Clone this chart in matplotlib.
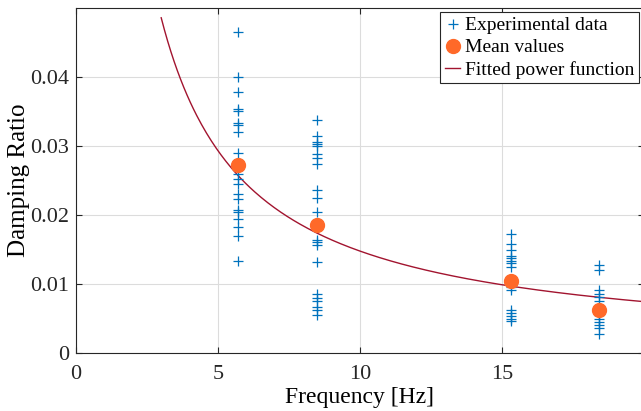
import numpy as np
import matplotlib
matplotlib.use("Agg")
import matplotlib.pyplot as plt

plt.rcParams['font.family'] = ['Liberation Serif', 'DejaVu Serif']

# experimental damping ratios per frequency group
freq_groups = [5.7, 8.5, 15.3, 18.4]
damp_57 = [0.0465, 0.0400, 0.0378, 0.0353, 0.0351, 0.0334, 0.0330, 0.0321, 0.0290, 0.0259,
           0.0252, 0.0245, 0.0230, 0.0223, 0.0207, 0.0204, 0.0194, 0.0182, 0.0169, 0.0133]
damp_85 = [0.0338, 0.0315, 0.0306, 0.0303, 0.0300, 0.0288, 0.0282, 0.0274, 0.0236, 0.0225,
           0.0204, 0.0164, 0.0161, 0.0156, 0.0132, 0.0086, 0.0079, 0.0075, 0.0067, 0.0063, 0.0055]
damp_153 = [0.0173, 0.0158, 0.0150, 0.0141, 0.0138, 0.0134, 0.0130, 0.0125, 0.0096, 0.0091,
            0.0063, 0.0058, 0.0053, 0.0049, 0.0046]
damp_184 = [0.0127, 0.0120, 0.0091, 0.0086, 0.0081, 0.0076, 0.0055, 0.0050, 0.0045, 0.0040,
            0.0036, 0.0028]
mean_vals = [0.0272, 0.0185, 0.0104, 0.0063]

# fitted power function y = a * x^b
fit_a = 0.144
fit_b = -0.989

fig = plt.figure(figsize=(6.41, 4.11), dpi=100)
ax = fig.add_axes([76/641, 58/411, 568/641, 345/411])

groups = [damp_57, damp_85, damp_153, damp_184]
xs = np.concatenate([[f] * len(g) for f, g in zip(freq_groups, groups)])
ys = np.concatenate(groups)

ax.plot(xs, ys, '+', color='#0072BD', markersize=7.5, markeredgewidth=0.9,
        label='Experimental data', zorder=3)
ax.plot(freq_groups, mean_vals, 'o', color='#FF6929', markersize=10,
        markeredgecolor='#FF6929', label='Mean values', zorder=4)
xf = np.linspace(3, 20, 300)
ax.plot(xf, fit_a * xf ** fit_b, '-', color='#A2142F', linewidth=1.0,
        label='Fitted power function', zorder=2)

ax.set_xlim(0, 20)
ax.set_ylim(0, 0.05)
ax.set_xticks([0, 5, 10, 15])
ax.set_yticks([0, 0.01, 0.02, 0.03, 0.04])
ax.set_yticklabels(['0', '0.01', '0.02', '0.03', '0.04'])
ax.set_xticklabels(['0', '5', '10', '15'])
ax.grid(True, color='#DCDCDC', linewidth=0.8)
ax.set_axisbelow(True)
ax.tick_params(direction='in', length=4, labelsize=16, colors='#262626',
               top=True, right=True)
ax.tick_params(axis='x', pad=8.5)
ax.tick_params(axis='y', pad=5)
for sp in ax.spines.values():
    sp.set_color('#262626')
    sp.set_linewidth(0.8)

ax.set_xlabel('Frequency [Hz]', fontsize=17, color='black', labelpad=2)
ax.set_ylabel('Damping Ratio', fontsize=18, color='black', labelpad=0)

leg = ax.legend(loc='upper right', bbox_to_anchor=(639/568 - 76/568, 1 - 4/345),
                fontsize=14, fancybox=False, framealpha=1, edgecolor='#262626',
                handlelength=0.75, handletextpad=0.25, borderpad=0.25,
                labelspacing=0.22, borderaxespad=0.0)
leg.get_frame().set_linewidth(0.8)

fig.savefig('out.png', dpi=100)
